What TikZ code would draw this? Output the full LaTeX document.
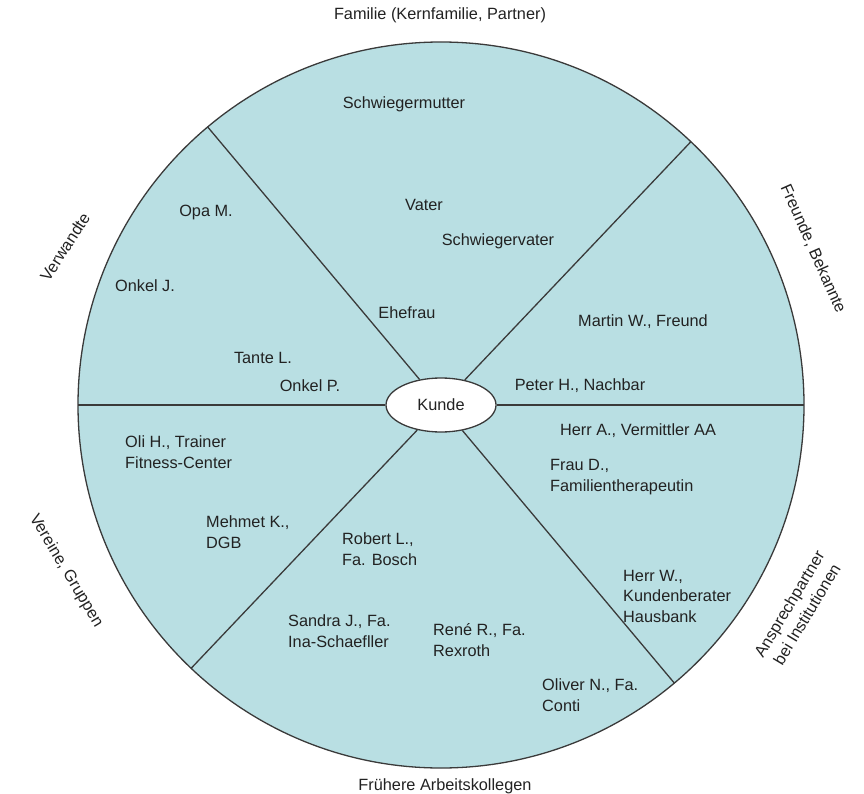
\documentclass[tikz,border=0pt]{standalone}
\usepackage{fontspec}
\setmainfont{Liberation Sans}
\usetikzlibrary{positioning,shapes.geometric}
\definecolor{Wedge}{HTML}{B9DFE3}
\definecolor{Ink}{HTML}{222222}
\definecolor{Rule}{HTML}{3A3A3A}
\tikzset{
  disc/.style={draw=Rule,fill=Wedge,line width=1.3pt},
  spoke/.style={draw=Rule,line width=1.3pt},
  hubbox/.style={ellipse,draw=Rule,fill=white,line width=1.3pt,minimum width=110pt,minimum height=54pt,inner sep=0pt,font=\fontsize{16.3}{20.5}\selectfont,text=Ink},
  person/.style={font=\fontsize{16.3}{20.5}\selectfont,text=Ink,inner sep=0pt},
  personblock/.style={person,align=left,anchor=west},
  ringlabel/.style={font=\fontsize{16.3}{20.5}\selectfont,text=Ink,inner sep=0pt,align=center}
}
\begin{document}
\begin{tikzpicture}[x=1pt,y=-1pt]
  \useasboundingbox (0,0) rectangle (864,794);
  \coordinate (c) at (441,405);
  \draw[disc] (c) circle[radius=363pt];
  \node[hubbox] (hub) at (c) {Kunde};
  \foreach \a/\i in {0/1,46.5/2,130/3,180/4,226.5/5,310/6}
    \coordinate (rim\i) at ([shift={(\a:363pt)}]c);
  \foreach \i in {1,...,6}
    \draw[spoke] (hub) -- (rim\i);

  \node[ringlabel] (familie) at (440,15) {Familie (Kernfamilie, Partner)};
  \node[ringlabel,rotate=-66] (freunde) at (813,249) {Freunde, Bekannte};
  \node[ringlabel,rotate=59] (institut) at (798,609) {Ansprechpartner\\bei Institutionen};
  \node[ringlabel] (kollegen) at (445,786) {Frühere Arbeitskollegen};
  \node[ringlabel,rotate=-59] (vereine) at (66,571) {Vereine, Gruppen};
  \node[ringlabel,rotate=57] (verwandte) at (65,247) {Verwandte};

  \node[person] (schwmutter) at (404,104) {Schwiegermutter};
  \node[person] (vater) at (424,205) {Vater};
  \node[person] (schwvater) at (498,241) {Schwiegervater};
  \node[person] (ehefrau) at (407,313) {Ehefrau};
  \node[person] (opa) at (206,213) {Opa M.};
  \node[person] (onkelj) at (145,286) {Onkel J.};
  \node[person] (tante) at (263,358) {Tante L.};
  \node[person] (onkelp) at (310,386) {Onkel P.};
  \node[person] (martin) at (643,322) {Martin W., Freund};
  \node[person] (peter) at (580,386) {Peter H., Nachbar};
  \node[person] (herra) at (638,431) {Herr A., Vermittler AA};
  \node[personblock] (fraud) at (550,477) {Frau D.,\\Familientherapeutin};
  \node[personblock] (herrw) at (623,596) {Herr W.,\\Kundenberater\\Hausbank};
  \node[personblock] (oliver) at (542,695) {Oliver N., Fa.\\Conti};
  \node[personblock] (rene) at (433,640) {René R., Fa.\\Rexroth};
  \node[personblock] (sandra) at (288,631) {Sandra J., Fa.\\Ina-Schaefller};
  \node[personblock] (robert) at (342,549) {Robert L.,\\Fa. Bosch};
  \node[personblock] (mehmet) at (206,532) {Mehmet K.,\\DGB};
  \node[personblock] (oli) at (125,452) {Oli H., Trainer\\Fitness-Center};
\end{tikzpicture}
\end{document}
